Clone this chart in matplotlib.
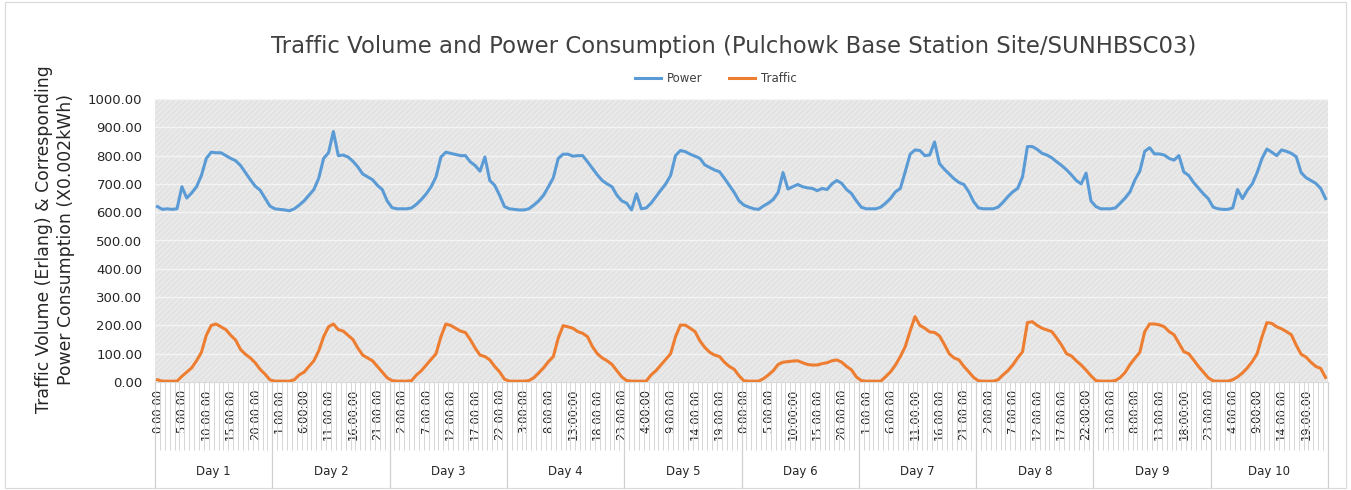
import matplotlib
matplotlib.use("Agg")
import matplotlib.pyplot as plt
from matplotlib.patches import Rectangle
from matplotlib.lines import Line2D
import matplotlib.transforms as mtransforms

plt.rcParams['font.family'] = ['DejaVu Sans']
plt.rcParams['hatch.linewidth'] = 0.6

days = ["Day 1", "Day 2", "Day 3", "Day 4", "Day 5", "Day 6", "Day 7", "Day 8", "Day 9", "Day 10"]

power_d1 = [620, 610, 612, 610, 612, 690, 650, 668, 690, 730, 790, 812, 810, 810, 800, 790, 782, 765, 740, 715, 692, 678, 650, 622]
power_d2 = [612, 610, 608, 605, 612, 625, 640, 660, 680, 720, 790, 810, 885, 800, 802, 795, 780, 760, 735, 725, 715, 695, 680, 640]
power_d3 = [616, 612, 612, 612, 615, 628, 645, 665, 690, 725, 795, 812, 808, 804, 800, 800, 778, 765, 745, 795, 712, 695, 660, 620]
power_d4 = [612, 610, 608, 608, 612, 625, 640, 660, 690, 722, 790, 805, 805, 798, 800, 800, 778, 755, 732, 712, 700, 690, 660, 640]
power_d5 = [632, 608, 665, 612, 615, 632, 655, 678, 700, 730, 800, 818, 814, 805, 798, 790, 767, 758, 749, 743, 720, 695, 670, 640]
power_d6 = [625, 618, 612, 610, 622, 632, 645, 670, 740, 682, 690, 698, 690, 686, 684, 676, 684, 680, 700, 712, 702, 680, 666, 640]
power_d7 = [618, 612, 612, 612, 618, 632, 649, 672, 684, 743, 805, 820, 818, 800, 802, 848, 772, 752, 735, 718, 705, 698, 672, 637]
power_d8 = [615, 612, 612, 612, 618, 635, 655, 672, 684, 725, 832, 832, 822, 808, 802, 792, 778, 765, 750, 732, 712, 700, 738, 640]
power_d9 = [620, 612, 612, 612, 615, 632, 650, 672, 714, 745, 815, 828, 806, 806, 802, 790, 784, 800, 742, 730, 705, 685, 665, 648]
power_d10 = [618, 612, 610, 610, 615, 680, 648, 678, 700, 740, 790, 823, 812, 800, 820, 815, 808, 796, 740, 722, 712, 702, 684, 648]

traffic_d1 = [8, 3, 3, 3, 3, 20, 35, 50, 75, 105, 165, 200, 205, 195, 185, 165, 148, 115, 98, 85, 68, 45, 28, 8]
traffic_d2 = [3, 3, 3, 3, 8, 25, 35, 55, 75, 110, 160, 195, 205, 185, 180, 165, 150, 120, 95, 85, 75, 55, 35, 15]
traffic_d3 = [5, 3, 3, 3, 5, 25, 40, 60, 80, 100, 160, 205, 200, 190, 180, 175, 150, 120, 95, 90, 78, 55, 36, 10]
traffic_d4 = [3, 3, 3, 3, 5, 15, 32, 50, 72, 90, 155, 199, 195, 190, 178, 172, 160, 125, 100, 85, 75, 62, 40, 18]
traffic_d5 = [5, 3, 3, 3, 3, 25, 40, 60, 80, 100, 160, 201, 201, 190, 178, 145, 122, 105, 95, 90, 70, 55, 45, 22]
traffic_d6 = [4, 3, 3, 3, 12, 25, 40, 62, 70, 72, 74, 75, 68, 62, 60, 60, 65, 68, 75, 78, 70, 55, 43, 18]
traffic_d7 = [5, 3, 3, 3, 3, 19, 36, 60, 90, 125, 180, 231, 200, 190, 177, 175, 163, 133, 100, 85, 78, 55, 36, 16]
traffic_d8 = [4, 3, 3, 3, 8, 25, 40, 60, 85, 107, 210, 213, 200, 190, 184, 178, 155, 130, 100, 92, 75, 60, 42, 22]
traffic_d9 = [5, 3, 3, 3, 5, 16, 34, 62, 84, 105, 178, 205, 205, 202, 195, 178, 167, 137, 107, 100, 78, 55, 35, 15]
traffic_d10 = [4, 3, 3, 3, 8, 18, 32, 50, 72, 100, 160, 210, 207, 195, 188, 178, 167, 130, 98, 88, 70, 55, 48, 16]

power = (power_d1 + power_d2 + power_d3 + power_d4 + power_d5 +
         power_d6 + power_d7 + power_d8 + power_d9 + power_d10)
traffic = (traffic_d1 + traffic_d2 + traffic_d3 + traffic_d4 + traffic_d5 +
           traffic_d6 + traffic_d7 + traffic_d8 + traffic_d9 + traffic_d10)

hours_per_day = 24
n = len(power)
hour_labels = [f"{i % 24}:00:00" for i in range(n)]

W, H = 1351, 490
fig = plt.figure(figsize=(W / 100, H / 100), dpi=100)
fig.patches.append(Rectangle((5 / W, 2 / H), 1341 / W, 486 / H, transform=fig.transFigure,
                             facecolor='none', edgecolor='#d9d9d9', lw=0.8))

L, R, T, B = 155, 1328, 99, 382
ax = fig.add_axes([L / W, 1 - B / H, (R - L) / W, (B - T) / H])
ax.set_facecolor('#e3e3e3')
ax.add_patch(Rectangle((0, 0), 1, 1, transform=ax.transAxes, facecolor='none',
                       hatch='//////', edgecolor='#f1f1f1', lw=0, zorder=0.1))

x = list(range(n))
ax.plot(x, power, color='#5B9BD5', lw=2.2, label='Power', zorder=3, solid_joinstyle='round')
ax.plot(x, traffic, color='#ED7D31', lw=2.2, label='Traffic', zorder=3, solid_joinstyle='round')

ax.set_xlim(-0.5, n - 0.5)
ax.set_ylim(0, 1000)
ax.set_yticks(range(0, 1001, 100))
ax.set_yticklabels([f"{v:.2f}" for v in range(0, 1001, 100)], fontsize=9.5, color='#262626')
ax.tick_params(axis='y', length=0, pad=9)
ax.set_axisbelow(True)
ax.yaxis.grid(True, color='#f4f4f4', lw=1.0, zorder=0.5)

major = list(range(0, n, 5))
ax.set_xticks(major)
ax.set_xticklabels([hour_labels[i] for i in major], rotation=90, fontsize=8.3, color='#262626')
ax.set_xticks([i - 0.5 for i in range(n + 1)], minor=True)
ax.tick_params(axis='x', which='major', length=0, pad=5)
ax.tick_params(axis='x', which='minor', length=49, width=0.7, color='#d6d6d6', direction='out')

for s in ['top', 'right', 'left']:
    ax.spines[s].set_visible(False)
ax.spines['bottom'].set_color('#d9d9d9')

trans = mtransforms.blended_transform_factory(ax.transData, ax.transAxes)
bottom_ax = -(488 - B) / (B - T)
label_ax = -(471 - B) / (B - T)
for d in range(len(days) + 1):
    xb = d * hours_per_day - 0.5
    ax.add_line(Line2D([xb, xb], [0, bottom_ax], transform=trans, color='#d0d0d0', lw=0.9, clip_on=False))
for d, name in enumerate(days):
    ax.text(d * hours_per_day + 11.5, label_ax, name, transform=trans, ha='center', va='center',
            fontsize=8.5, color='#262626')

fig.text(734 / W, 1 - 46 / H, "Traffic Volume and Power Consumption (Pulchowk Base Station Site/SUNHBSC03)",
         ha='center', va='center', fontsize=16.4, color='#404040')

fig.text(55 / W, 1 - 239 / H, "Traffic Volume (Erlang) & Corresponding\nPower Consumption (X0.002kWh)",
         rotation=90, ha='center', va='center', fontsize=12.4, color='#262626', linespacing=1.3,
         multialignment='center')

handles, labels = ax.get_legend_handles_labels()
fig.legend(handles, labels, loc='center', bbox_to_anchor=(716 / W, 1 - 79 / H), ncol=2,
           frameon=False, fontsize=8.5, handlelength=2.2, columnspacing=2.2, handletextpad=0.5,
           labelcolor='#404040')

fig.savefig("out.png", dpi=100)
